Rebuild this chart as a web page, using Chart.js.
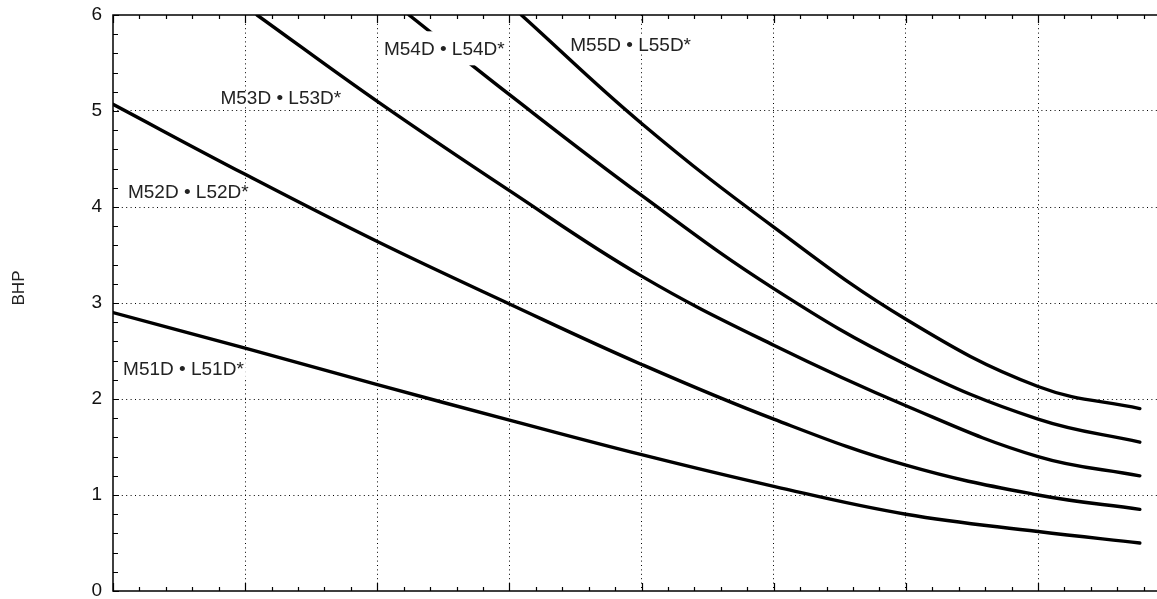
<!DOCTYPE html>
<html>
<head>
<meta charset="utf-8">
<script src="https://cdn.jsdelivr.net/npm/chart.js@4.4.1/dist/chart.umd.min.js"></script>
<style>
  html, body { margin: 0; padding: 0; background: #fff; overflow: hidden; }
  #wrap { width: 1157px; height: 599px; }
</style>
</head>
<body>
<div id="wrap"><canvas id="chart"></canvas></div>
<script>
// Curve data (x in grid units, y in BHP)
const m51x = [0, 1, 2, 3, 4, 5, 6, 7, 7.77];
const m51y = [2.90, 2.53, 2.15, 1.78, 1.42, 1.09, 0.80, 0.62, 0.50];

const m52x = [0, 1, 2, 3, 4, 5, 6, 7, 7.77];
const m52y = [5.07, 4.34, 3.64, 2.99, 2.36, 1.79, 1.31, 1.00, 0.85];

const m53x = [1.09, 2, 3, 4, 5, 6, 7, 7.77];
const m53y = [6.00, 5.10, 4.17, 3.28, 2.56, 1.93, 1.40, 1.20];

const m54x = [2.24, 3, 4, 5, 6, 7, 7.77];
const m54y = [6.00, 5.17, 4.12, 3.15, 2.36, 1.79, 1.55];

const m55x = [3.09, 4, 5, 6, 7, 7.77];
const m55y = [6.00, 4.87, 3.79, 2.83, 2.13, 1.90];

const curveNames = ['M51D • L51D*', 'M52D • L52D*', 'M53D • L53D*', 'M54D • L54D*', 'M55D • L55D*'];
const curveX = [m51x, m52x, m53x, m54x, m55x];
const curveY = [m51y, m52y, m53y, m54y, m55y];

// where each curve's name sits (data units) and how tall its white backing is
const labelX = [0.533, 0.57, 1.27, 2.507, 3.917];
const labelY = [2.31, 4.16, 5.135, 5.653, 5.695];
const labelGap = [16, 16, 14, 34, 16];

const yTicks = [0, 1, 2, 3, 4, 5, 6];
const axisTitle = 'BHP';

const FONT = '"Liberation Sans", Arial, Helvetica, sans-serif';

// labels with white boxes, the solid frame and the inward tick marks
const framePlugin = {
  id: 'frame',
  afterDatasetsDraw(chart) {
    const { ctx, chartArea: a, scales: { x, y } } = chart;
    ctx.save();

    // curve labels
    ctx.font = '19px ' + FONT;
    ctx.textAlign = 'center';
    ctx.textBaseline = 'middle';
    curveNames.forEach((name, i) => {
      const cx = x.getPixelForValue(labelX[i]);
      const cy = y.getPixelForValue(labelY[i]);
      const w = ctx.measureText(name).width;
      const h = labelGap[i];
      ctx.fillStyle = '#fff';
      ctx.fillRect(cx - w / 2 - 2, cy - h / 2, w + 4, h);
      ctx.fillStyle = '#222';
      ctx.fillText(name, cx, cy + 1);
    });

    // frame
    ctx.strokeStyle = '#000';
    ctx.lineWidth = 1.5;
    ctx.beginPath();
    ctx.moveTo(a.right, a.top);
    ctx.lineTo(a.left, a.top);
    ctx.lineTo(a.left, a.bottom);
    ctx.lineTo(a.right, a.bottom);
    ctx.stroke();

    // inward ticks
    ctx.lineWidth = 1.2;
    ctx.beginPath();
    for (let i = 0; i <= 40; i++) {
      const v = i / 5;
      if (v > x.max) break;
      const px = Math.round(x.getPixelForValue(v)) + 0.5;
      const len = i % 5 === 0 ? 8 : 4;
      ctx.moveTo(px, a.bottom);
      ctx.lineTo(px, a.bottom - len);
      ctx.moveTo(px, a.top);
      ctx.lineTo(px, a.top + len);
    }
    for (let i = 0; i <= 30; i++) {
      const py = Math.round(y.getPixelForValue(i / 5)) + 0.5;
      const len = i % 5 === 0 ? 6 : 5;
      ctx.moveTo(a.left, py);
      ctx.lineTo(a.left + len, py);
    }
    ctx.stroke();

    // axis title
    ctx.fillStyle = '#222';
    ctx.font = '17px ' + FONT;
    ctx.translate(19, 288);
    ctx.rotate(-Math.PI / 2);
    ctx.fillText(axisTitle, 0, 0);
    ctx.restore();
  }
};

const datasets = curveNames.map((name, i) => ({
  label: name,
  data: curveX[i].map((v, j) => ({ x: v, y: curveY[i][j] })),
  borderColor: '#000',
  borderWidth: 3.4,
  borderCapStyle: 'round',
  borderJoinStyle: 'round',
  pointRadius: 0,
  tension: 0.4,
  fill: false
}));

new Chart(document.getElementById('chart'), {
  type: 'line',
  data: { datasets: datasets },
  options: {
    responsive: true,
    maintainAspectRatio: false,
    animation: false,
    layout: { autoPadding: false, padding: { top: 15, right: 0, left: 0, bottom: 0 } },
    plugins: {
      legend: { display: false },
      tooltip: { enabled: false }
    },
    scales: {
      x: {
        type: 'linear',
        min: 0,
        max: 7.9,
        ticks: { display: false, stepSize: 1 },
        grid: {
          drawTicks: false,
          lineWidth: 1,
          color: c => (Number.isInteger(c.tick.value) && c.tick.value > 0) ? '#000' : 'rgba(0,0,0,0)'
        },
        border: { display: false, dash: [1, 3.4] },
        afterFit: s => { s.height = 8; s.paddingLeft = 0; s.paddingRight = 0; }
      },
      y: {
        type: 'linear',
        min: 0,
        max: 6,
        afterBuildTicks: s => { s.ticks = yTicks.map(v => ({ value: v })); },
        ticks: {
          color: '#111',
          padding: 11,
          font: { size: 19, family: FONT }
        },
        grid: {
          drawTicks: false,
          lineWidth: 1,
          color: c => (c.tick.value > 0 && c.tick.value < 6) ? '#000' : 'rgba(0,0,0,0)'
        },
        border: { display: false, dash: [1, 3.4] },
        afterFit: s => { s.width = 113; s.paddingTop = 0; s.paddingBottom = 0; }
      }
    }
  },
  plugins: [framePlugin]
});
</script>
</body>
</html>
